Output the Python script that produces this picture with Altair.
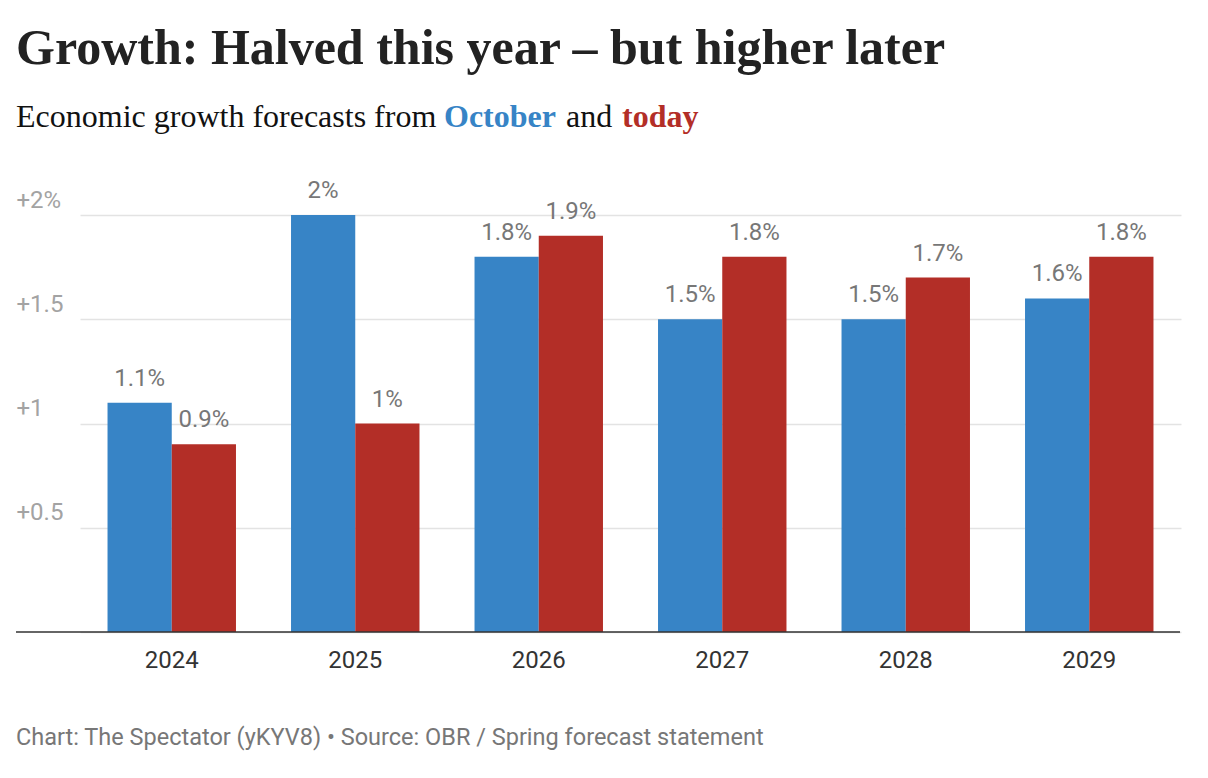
import altair as alt
import pandas as pd

years = ["2024", "2025", "2026", "2027", "2028", "2029"]
october = [1.1, 2.0, 1.8, 1.5, 1.5, 1.6]
today = [0.9, 1.0, 1.9, 1.8, 1.7, 1.8]
series_names = ["October", "today"]
series_colors = ["#3784c6", "#b32e27"]
yticks = [0, 0.5, 1, 1.5, 2]

title_text = "Growth: Halved this year – but higher later"
sub_parts = ["Economic growth forecasts from", "October", "and", "today"]
sub_colors = ["#111111", "#3784c6", "#111111", "#b32e27"]
sub_weights = ["normal", "bold", "normal", "bold"]
sub_x = [0, 428, 550, 606]
footer_text = "Chart: The Spectator (yKYV8) • Source: OBR / Spring forecast statement"

rows = []
for i, yr in enumerate(years):
    rows.append({"year": yr, "series": series_names[0], "value": october[i]})
    rows.append({"year": yr, "series": series_names[1], "value": today[i]})
df = pd.DataFrame(rows)

W, H = 1164, 417

x_enc = alt.X(
    "year:N", sort=years,
    scale=alt.Scale(range=[64, 1165], paddingInner=0.3, paddingOuter=0.15),
    axis=alt.Axis(title=None, domain=False, ticks=False, labelAngle=0,
                  labelFont="Roboto", labelFontSize=24, labelColor="#333333",
                  labelPadding=16),
)
y_enc = alt.Y(
    "value:Q",
    scale=alt.Scale(domain=[0, 2], nice=False),
    axis=alt.Axis(title=None, values=yticks, domain=False, ticks=False, tickSize=0,
                  grid=True, gridColor="#e3e3e3", gridWidth=1.3,
                  labelAlign="left", labelBaseline="alphabetic", labelPadding=0,
                  labelOffset=-8, labelFont="Roboto", labelFontSize=24,
                  labelColor="#a3a3a3",
                  labelExpr="datum.value == 0 ? '' : (datum.value == 2 ? '+2%' : '+' + format(datum.value, '~g'))"),
)
xo = alt.XOffset("series:N", sort=series_names, scale=alt.Scale(paddingInner=0, paddingOuter=0))
color = alt.Color("series:N", sort=series_names,
                  scale=alt.Scale(domain=series_names, range=series_colors), legend=None)

base = alt.Chart(df)
bars = base.mark_bar().encode(x=x_enc, y=y_enc, xOffset=xo, color=color)
labels = base.transform_calculate(
    lab="format(datum.value, '.1~f') + '%'"
).mark_text(font="Roboto", fontSize=24, color="#777777", baseline="alphabetic", dy=-17).encode(
    x=x_enc, y=y_enc, xOffset=xo, text="lab:N"
)
rule = alt.Chart(pd.DataFrame({"v": [0]})).mark_rule(color="#333333", strokeWidth=1.5).encode(
    y="v:Q", x=alt.value(0), x2=alt.value(W)
)

title = alt.Chart(pd.DataFrame({"t": [title_text]})).mark_text(
    font="Liberation Serif", fontSize=50, fontWeight="bold", color="#222222",
    align="left", baseline="alphabetic"
).encode(x=alt.value(0), y=alt.value(-151), text="t:N")

subs = []
for i, part in enumerate(sub_parts):
    subs.append(
        alt.Chart(pd.DataFrame({"t": [part]})).mark_text(
            font="Liberation Serif", fontSize=32, fontWeight=sub_weights[i],
            color=sub_colors[i], align="left", baseline="alphabetic"
        ).encode(x=alt.value(sub_x[i]), y=alt.value(-88), text="t:N")
    )

footer = alt.Chart(pd.DataFrame({"t": [footer_text]})).mark_text(
    font="Roboto", fontSize=23.5, color="#777777", align="left", baseline="alphabetic"
).encode(x=alt.value(0), y=alt.value(530), text="t:N")

chart = alt.layer(bars, labels, rule, title, *subs, footer).properties(
    width=W, height=H,
    padding={"left": 8, "top": 207, "right": 20, "bottom": 130},
    autosize=alt.AutoSizeParams(type="none"),
    background="white",
).configure_view(stroke=None)

chart.save("out.html", embed_options={"renderer": "svg", "actions": False})
